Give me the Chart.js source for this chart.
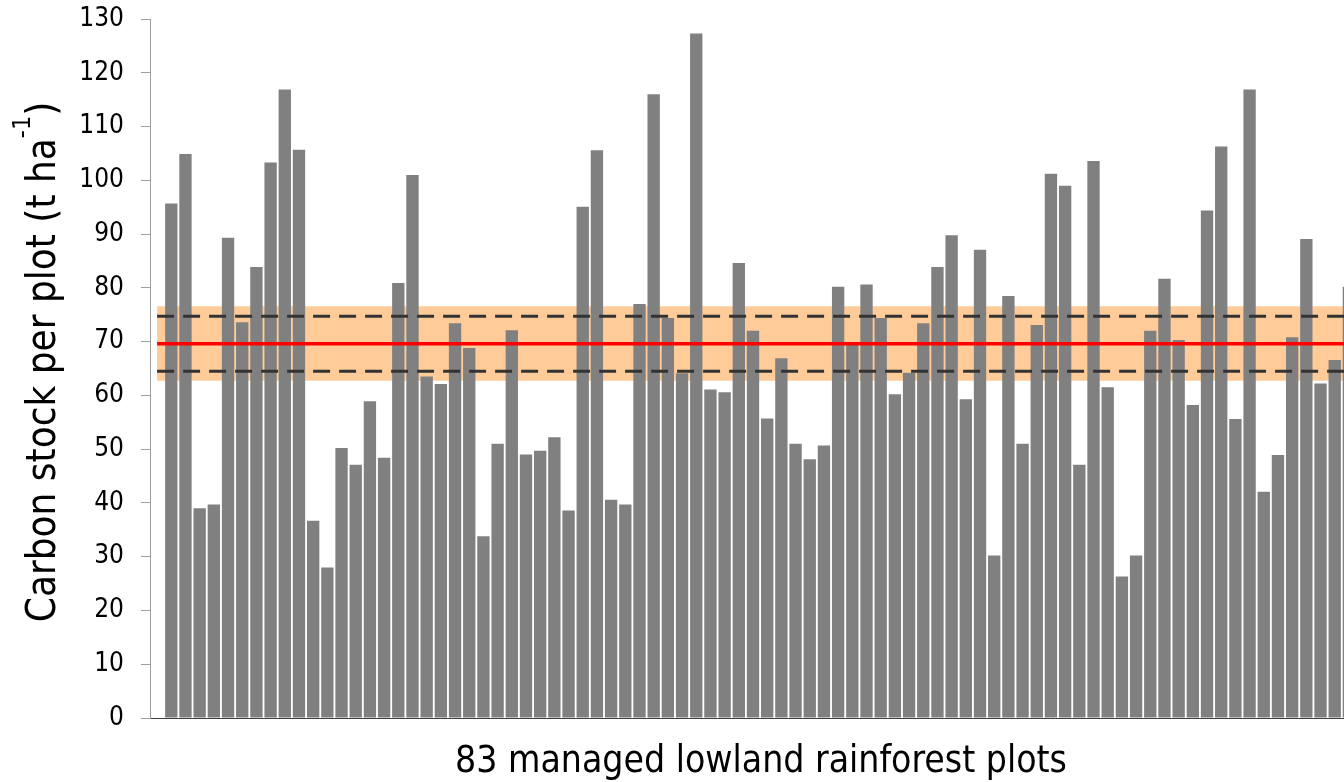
<!DOCTYPE html>
<html lang="en">
<head>
<meta charset="UTF-8">
<title>Carbon stock per plot</title>
<script src="https://cdn.jsdelivr.net/npm/chart.js"></script>
<style>
  html, body { margin: 0; padding: 0; background: #fff; overflow: hidden; }
  #chart { display: block; }
</style>
</head>
<body>
<canvas id="chart" width="1360" height="782"></canvas>
<script>
// carbon stock per plot (t/ha), left to right. first slot has no bar in the original
const carbonStock = [null,
  95.7, 104.9, 39.0, 39.7, 89.3, 73.6, 83.9, 103.3, 116.9, 105.7,
  36.7, 28.0, 50.2, 47.1, 58.9, 48.4, 80.9, 101.0, 63.5, 62.1,
  73.4, 68.8, 33.8, 51.0, 72.1, 49.0, 49.7, 52.2, 38.6, 95.1,
  105.6, 40.6, 39.7, 77.0, 116.0, 74.4, 64.1, 127.3, 61.1, 60.6,
  84.6, 72.0, 55.7, 66.9, 51.0, 48.1, 50.7, 80.2, 69.4, 80.6,
  74.4, 60.2, 64.2, 73.4, 83.9, 89.8, 59.3, 87.1, 30.2, 78.5,
  51.0, 73.1, 101.2, 99.0, 47.1, 103.6, 61.5, 26.3, 30.2, 72.0,
  81.7, 70.3, 58.2, 94.4, 106.3, 55.6, 116.9, 42.1, 48.9, 70.8,
  89.1, 62.2, 66.6, 80.2
];
const plotLabels = carbonStock.map((v, i) => i === 0 ? '' : 'Plot ' + i);

// mean, dashed interval and shaded range
const meanStock = 69.6;
const ciUpper = 74.7;
const ciLower = 64.5;
const rangeUpper = 76.6;
const rangeLower = 62.7;

const yMin = 0, yMax = 130, yStep = 10;

const xTitle = '83 managed lowland rainforest plots';
const yTitle = ['Carbon stock per plot (t ha', '-1', ')'];

const tickFont = "'DejaVu Sans Condensed', 'DejaVu Sans', sans-serif";
const titleFont = "'DejaVu Sans Condensed', 'DejaVu Sans', sans-serif";

const flat = v => plotLabels.map(() => v);

// titles drawn by hand, the y one needs a superscript
const axisTitles = {
  id: 'axisTitles',
  afterDraw(chart) {
    const ctx = chart.ctx;
    ctx.save();
    ctx.fillStyle = '#000';
    ctx.textBaseline = 'alphabetic';
    ctx.font = '37px ' + titleFont;
    ctx.textAlign = 'center';
    ctx.fillText(xTitle, 761, 772);

    ctx.translate(55, 362);
    ctx.rotate(-Math.PI / 2);
    ctx.textAlign = 'left';
    const main = '40px ' + titleFont, sup = '25px ' + titleFont;
    ctx.font = main;
    const w1 = ctx.measureText(yTitle[0]).width;
    const w3 = ctx.measureText(yTitle[2]).width;
    ctx.font = sup;
    const w2 = ctx.measureText(yTitle[1]).width;
    let x = -(w1 + w2 + w3) / 2;
    ctx.font = main;
    ctx.fillText(yTitle[0], x, 0);
    x += w1;
    ctx.font = sup;
    ctx.fillText(yTitle[1], x, -25);
    x += w2;
    ctx.font = main;
    ctx.fillText(yTitle[2], x, 0);
    ctx.restore();
  }
};

new Chart(document.getElementById('chart'), {
  type: 'bar',
  data: {
    labels: plotLabels,
    datasets: [
      {
        type: 'line', data: flat(rangeUpper), fill: '+1',
        backgroundColor: '#FFCC99', borderColor: 'transparent', borderWidth: 0,
        pointRadius: 0, order: 5
      },
      {
        type: 'line', data: flat(rangeLower), fill: false,
        borderColor: 'transparent', borderWidth: 0, pointRadius: 0, order: 5
      },
      {
        type: 'bar', data: carbonStock, backgroundColor: '#808080',
        barPercentage: 0.87, categoryPercentage: 1, order: 3
      },
      {
        type: 'line', data: flat(ciUpper), borderColor: '#333333', borderWidth: 3,
        borderDash: [17, 9], pointRadius: 0, fill: false, order: 2
      },
      {
        type: 'line', data: flat(ciLower), borderColor: '#333333', borderWidth: 3,
        borderDash: [17, 9], pointRadius: 0, fill: false, order: 2
      },
      {
        type: 'line', data: flat(meanStock), borderColor: '#FF0000', borderWidth: 3.5,
        pointRadius: 0, fill: false, order: 1
      }
    ]
  },
  options: {
    responsive: false,
    animation: false,
    layout: { padding: { top: 19, right: 4, bottom: 0, left: 0 } },
    plugins: {
      legend: { display: false },
      tooltip: { enabled: false }
    },
    scales: {
      x: {
        grid: { display: false },
        border: { display: true, color: '#404040', width: 1 },
        ticks: { display: false },
        afterFit(scale) {
          scale.height = 64;
          scale.paddingLeft = 0;
          scale.paddingRight = 0;
        }
      },
      y: {
        min: yMin,
        max: yMax,
        grid: { drawOnChartArea: false, color: '#a0a0a0', tickLength: 9 },
        border: { color: '#a0a0a0', width: 1 },
        ticks: {
          stepSize: yStep,
          color: '#000',
          padding: 17,
          font: { family: tickFont, size: 26 }
        },
        afterFit(scale) {
          scale.width = 150;
          scale.paddingTop = 0;
          scale.paddingBottom = 0;
        }
      }
    }
  },
  plugins: [axisTitles]
});
</script>
</body>
</html>
